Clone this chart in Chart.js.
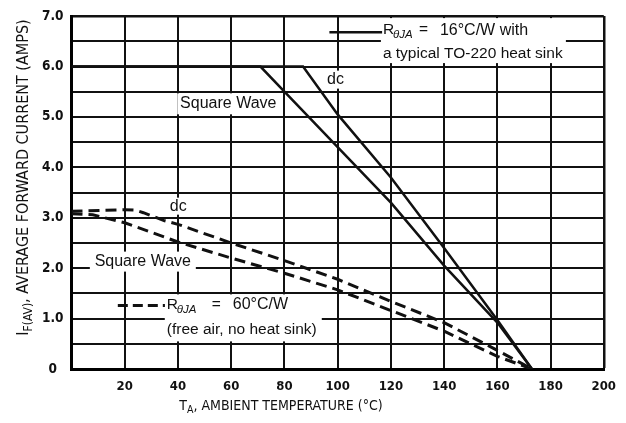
<!DOCTYPE html>
<html>
<head>
<meta charset="utf-8">
<script src="https://cdn.jsdelivr.net/npm/chart.js@4.4.1/dist/chart.umd.min.js"></script>
<style>
  html, body { margin: 0; padding: 0; background: #fff; }
</style>
</head>
<body>
<canvas id="derating" width="626" height="423"></canvas>
<script>
// tick labels
var xTickLabels = ['', '20', '40', '60', '80', '100', '120', '140', '160', '180', '200'];
var yTickLabels = ['0', '1.0', '2.0', '3.0', '4.0', '5.0', '6.0', '7.0'];

// R(theta)JA = 16 C/W, TO-220 heat sink
var sinkDcTemp = [0, 87, 100, 120, 140, 160, 173];
var sinkDcAmps = [6.0, 6.0, 5.05, 3.8, 2.4, 0.97, 0];
var sinkSqTemp = [0, 71, 80, 100, 120, 140, 160, 173];
var sinkSqAmps = [6.0, 6.0, 5.5, 4.4, 3.3, 2.05, 0.92, 0];

// R(theta)JA = 60 C/W, free air
var airDcTemp = [0, 20, 24, 27, 35, 40, 60, 80, 100, 120, 140, 160, 173];
var airDcAmps = [3.13, 3.16, 3.15, 3.1, 2.94, 2.87, 2.5, 2.15, 1.78, 1.34, 0.92, 0.37, 0];
var airSqTemp = [0, 8, 20, 40, 60, 80, 100, 120, 140, 160, 173];
var airSqAmps = [3.08, 3.06, 2.9, 2.52, 2.2, 1.9, 1.57, 1.16, 0.75, 0.25, 0];

var NARROW = '"Liberation Sans Narrow", "Arial Narrow", "DejaVu Sans Condensed", sans-serif';
var SANS = '"Liberation Sans", Arial, sans-serif';
var INK = '#111';

function toPoints(xs, ys) {
    return xs.map(function (x, i) { return { x: x, y: ys[i] }; });
}

function lineSet(xs, ys, dashed) {
    return {
        data: toPoints(xs, ys),
        borderColor: INK,
        borderWidth: dashed ? 3 : 2.5,
        borderDash: dashed ? [11, 6] : [],
        pointRadius: 0,
        tension: 0,
        fill: false
    };
}

// draws text pieces, labels and the white patches behind them
var notesPlugin = {
    id: 'notes',
    beforeDraw: function (chart) {
        var c = chart.ctx;
        c.save();
        c.fillStyle = '#fff';
        c.fillRect(0, 0, chart.width, chart.height);
        c.restore();
    },
    beforeDatasetsDraw: function (chart) {
        var c = chart.ctx;
        var xs = chart.scales.x, ys = chart.scales.y;
        function box(t, a, w, h) {
            c.fillRect(xs.getPixelForValue(t) - w / 2, ys.getPixelForValue(a) - h / 2, w, h);
        }
        c.save();
        c.fillStyle = '#fff';
        box(58.9, 5.26, 102, 21);
        box(99.2, 5.74, 22, 18);
        box(40.1, 3.23, 22, 17);
        box(26.8, 2.13, 106, 20);
        // legend patches
        var l1 = xs.getPixelForValue(117);
        c.fillRect(l1 - 2, chart.chartArea.top + 2, 185, 45);
        var l2 = xs.getPixelForValue(35.8);
        c.fillRect(l2 - 2, ys.getPixelForValue(1.48), 157, 47);
        c.restore();
    },
    afterDatasetsDraw: function (chart) {
        var c = chart.ctx;
        var xs = chart.scales.x, ys = chart.scales.y;
        var area = chart.chartArea;
        c.save();
        c.fillStyle = INK;
        c.strokeStyle = INK;
        c.textBaseline = 'middle';

        function label(txt, t, a, size) {
            c.font = size + 'px ' + SANS;
            c.textAlign = 'center';
            c.fillText(txt, xs.getPixelForValue(t), ys.getPixelForValue(a));
        }
        label('Square Wave', 58.9, 5.26, 16);
        label('dc', 99.2, 5.74, 16);
        label('dc', 40.1, 3.23, 16);
        label('Square Wave', 26.8, 2.13, 16);

        // R theta JA text with subscript
        function rja(x, y, rest, restX, eqX) {
            c.textAlign = 'left';
            c.font = '15.5px ' + SANS;
            c.fillText('R', x, y);
            c.font = 'italic 11.5px ' + SANS;
            c.fillText('\u03b8JA', x + 10, y + 5);
            c.font = '15.5px ' + SANS;
            c.fillText('=', x + eqX, y);
            c.font = '16px ' + SANS;
            c.fillText(rest, x + restX, y);
        }

        // legend 1: solid line
        var y1 = ys.getPixelForValue(6.72);
        c.lineWidth = 2.5;
        c.setLineDash([]);
        c.beginPath();
        c.moveTo(xs.getPixelForValue(96.9), y1 + 2);
        c.lineTo(xs.getPixelForValue(116.7), y1 + 2);
        c.stroke();
        var lx = xs.getPixelForValue(117);
        rja(lx, y1, '16\u00b0C/W with', 57, 36);
        c.font = '15.5px ' + SANS;
        c.fillText('a typical TO-220 heat sink', lx, ys.getPixelForValue(6.25));

        // legend 2: dashed line
        var y2 = ys.getPixelForValue(1.28);
        c.lineWidth = 3;
        c.setLineDash([10, 5]);
        c.beginPath();
        c.moveTo(xs.getPixelForValue(17.4), y2 + 1);
        c.lineTo(xs.getPixelForValue(35.1), y2 + 1);
        c.stroke();
        c.setLineDash([]);
        var lx2 = xs.getPixelForValue(35.8);
        rja(lx2, y2, '60\u00b0C/W', 66, 45);
        c.font = '15.5px ' + SANS;
        c.fillText('(free air, no heat sink)', lx2, ys.getPixelForValue(0.77));

        // axis titles
        c.textAlign = 'left';
        var tx = xs.getPixelForValue(40.5), ty = area.bottom + 37;
        c.font = '14px ' + NARROW;
        c.fillText('T', tx, ty);
        var tw = c.measureText('T').width;
        c.font = '10.5px ' + NARROW;
        c.fillText('A', tx + tw, ty + 4);
        var aw = c.measureText('A').width;
        c.font = '14px ' + NARROW;
        c.fillText(', AMBIENT TEMPERATURE (\u00b0C)', tx + tw + aw, ty);

        c.translate(24, (area.top + area.bottom) / 2 - 15);
        c.rotate(-Math.PI / 2);
        c.textAlign = 'left';
        var parts = [['I', 16, 0], ['F(AV)', 12, 5], [', AVERAGE FORWARD CURRENT (AMPS)', 16, 0]];
        var total = 0;
        parts.forEach(function (p) { c.font = p[1] + 'px ' + NARROW; total += c.measureText(p[0]).width; });
        var px = -total / 2;
        parts.forEach(function (p) {
            c.font = p[1] + 'px ' + NARROW;
            c.fillText(p[0], px, p[2]);
            px += c.measureText(p[0]).width;
        });
        c.restore();
    }
};

var ctx = document.getElementById('derating').getContext('2d');
var chart = new Chart(ctx, {
    type: 'line',
    data: {
        datasets: [
            lineSet(sinkDcTemp, sinkDcAmps, false),
            lineSet(sinkSqTemp, sinkSqAmps, false),
            lineSet(airDcTemp, airDcAmps, true),
            lineSet(airSqTemp, airSqAmps, true)
        ]
    },
    options: {
        responsive: false,
        animation: false,
        events: [],
        layout: { padding: { top: 14, right: 22, left: 0, bottom: 0 } },
        plugins: { legend: { display: false }, tooltip: { enabled: false } },
        scales: {
            x: {
                type: 'linear',
                min: 0,
                max: 200,
                afterFit: function (s) { s.height = 54; },
                grid: {
                    color: INK,
                    lineWidth: function (g) { return g.tick && g.tick.value === 200 ? 2.5 : 2; },
                    drawTicks: false
                },
                border: { color: '#000', width: 3 },
                ticks: {
                    stepSize: 20,
                    autoSkip: false,
                    maxRotation: 0,
                    padding: 10,
                    color: INK,
                    font: { family: NARROW, size: 13, weight: 'bold' },
                    callback: function (v, i) { return xTickLabels[i]; }
                }
            },
            y: {
                type: 'linear',
                min: 0,
                max: 7,
                afterFit: function (s) { s.width = 71.5; },
                grid: {
                    color: INK,
                    lineWidth: function (g) { return g.tick && g.tick.value === 7 ? 2.5 : 2; },
                    drawTicks: false
                },
                border: { color: '#000', width: 3 },
                ticks: {
                    stepSize: 0.5,
                    autoSkip: false,
                    padding: 8,
                    crossAlign: 'center',
                    color: INK,
                    font: { family: NARROW, size: 13.5, weight: 'bold' },
                    callback: function (v) { return Number.isInteger(v) ? yTickLabels[v] : ''; }
                }
            }
        }
    },
    plugins: [notesPlugin]
});
</script>
</body>
</html>
